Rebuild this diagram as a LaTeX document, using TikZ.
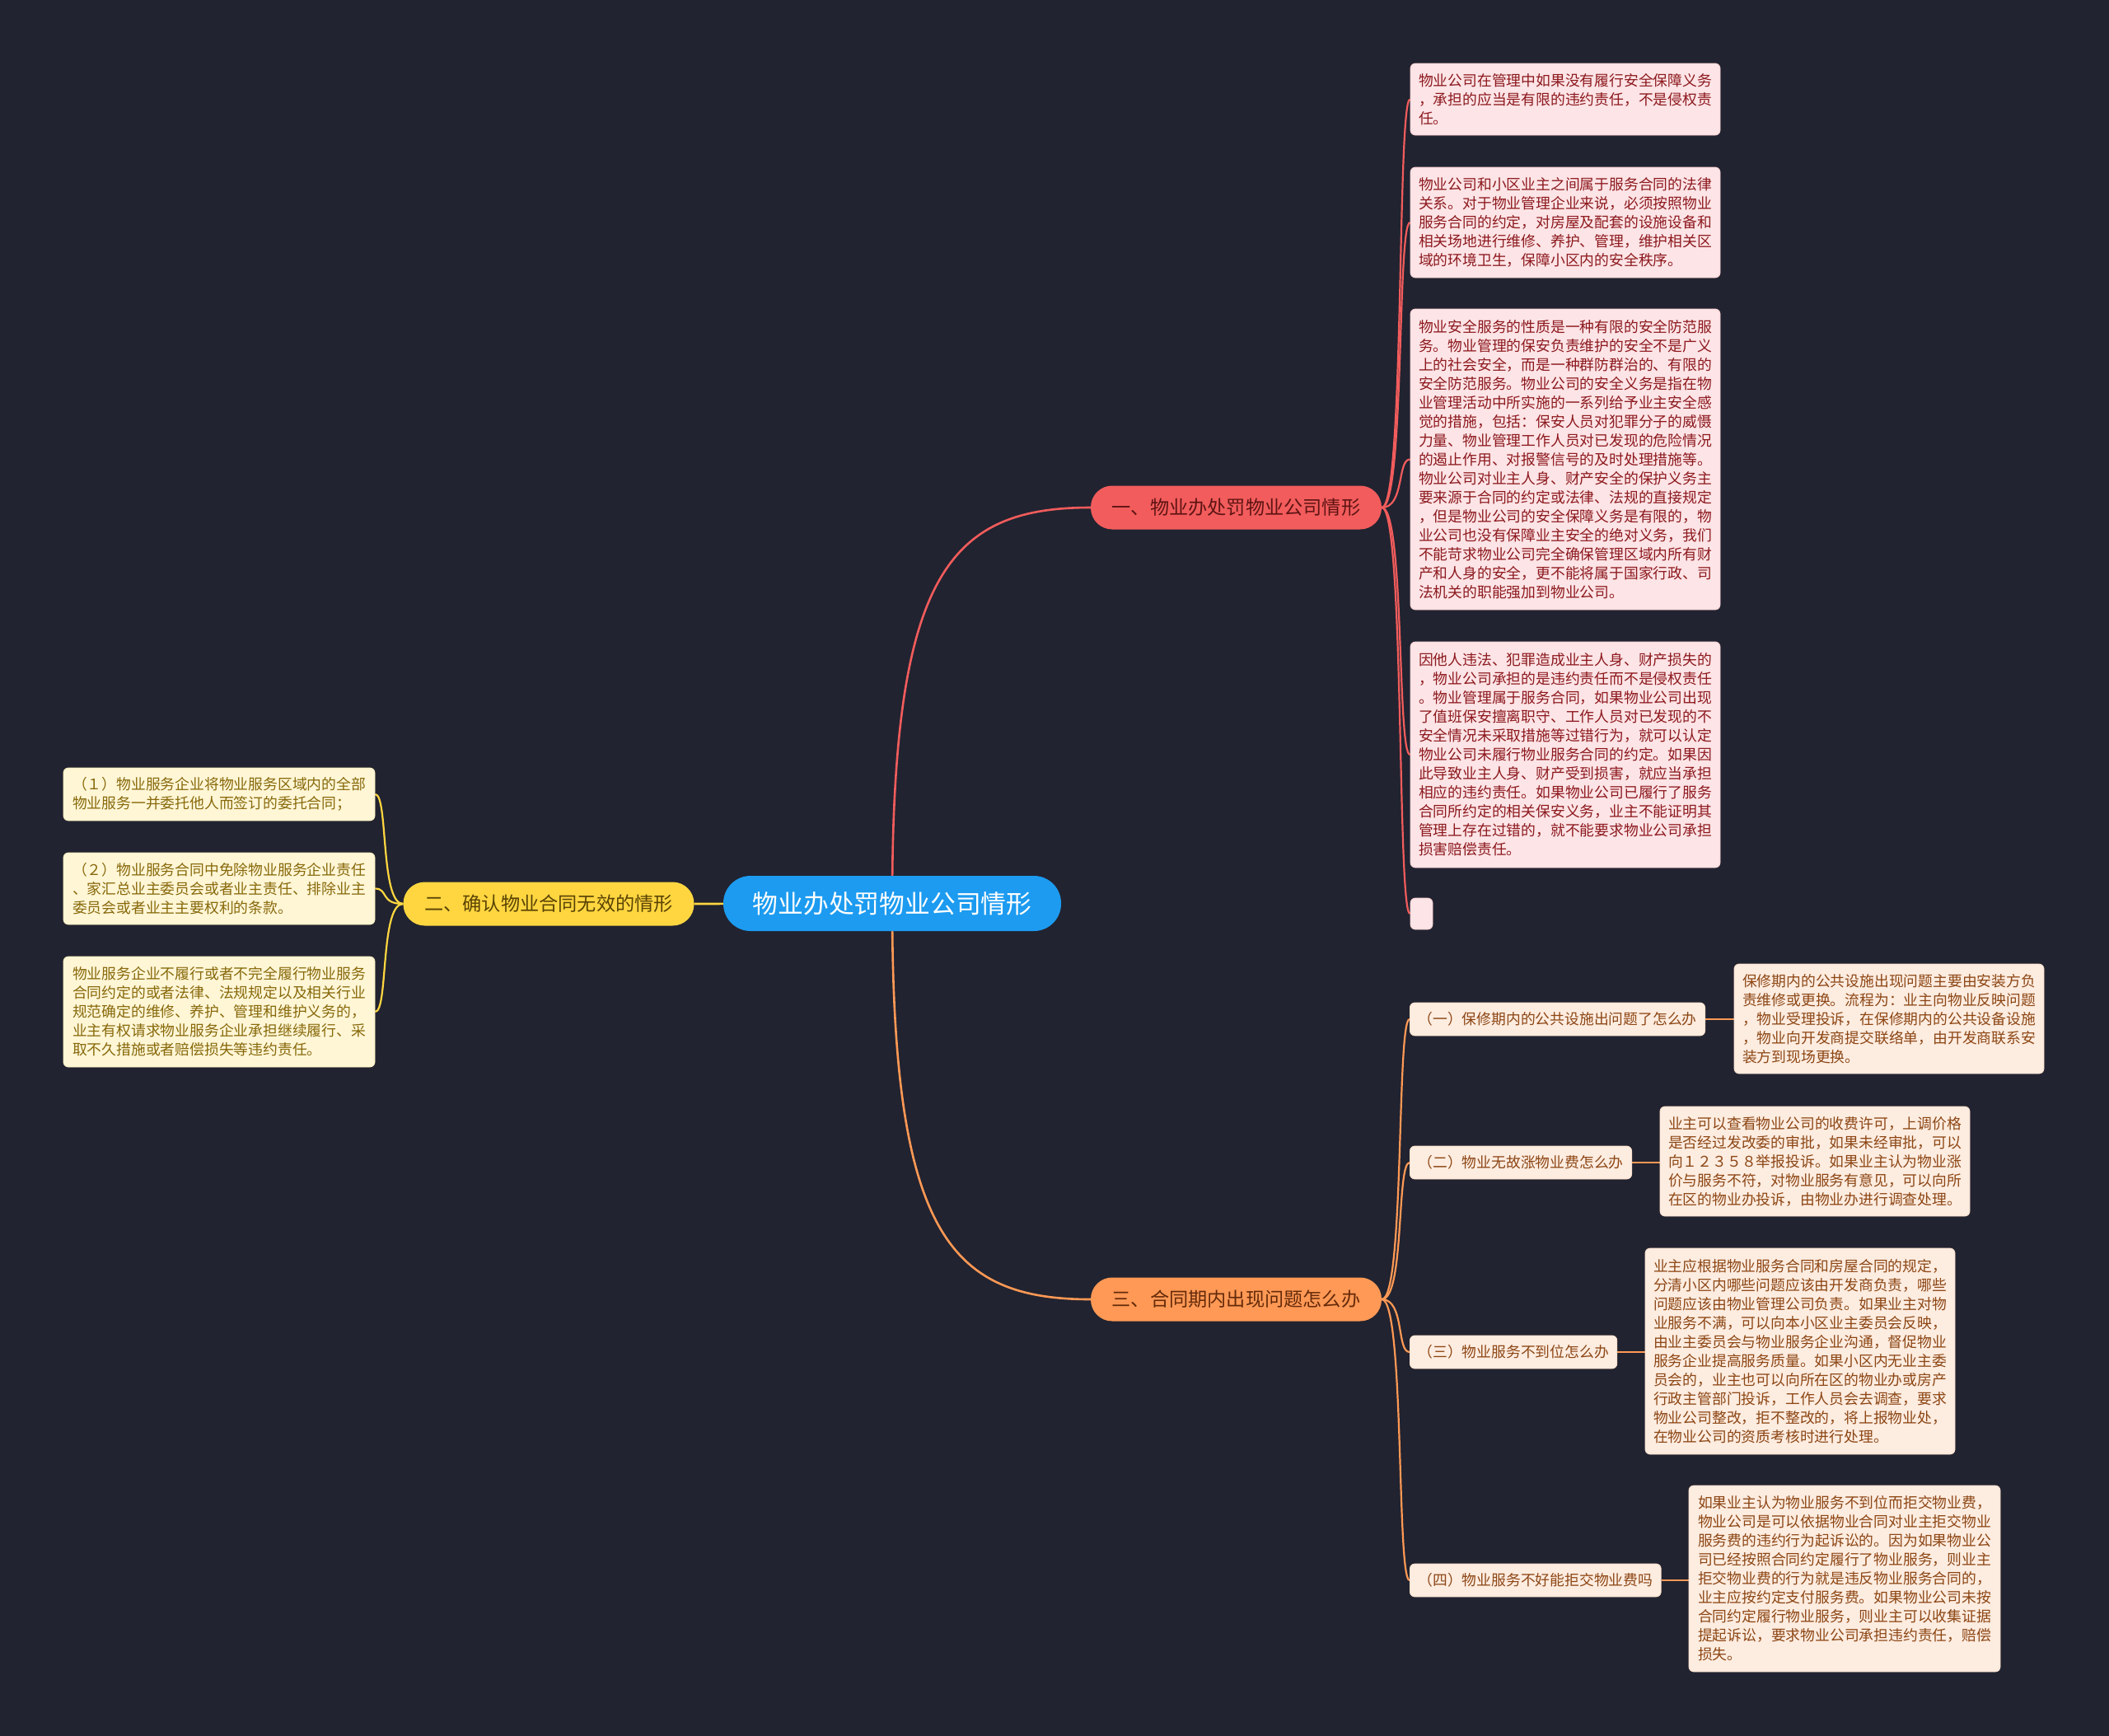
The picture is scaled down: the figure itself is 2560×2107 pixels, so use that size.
\documentclass[tikz,border=0pt]{standalone}
\usepackage{fontspec}
\newfontfamily\cjk{Noto Sans CJK SC}
\definecolor{bgc}{RGB}{33,35,48}
\definecolor{centerc}{RGB}{28,155,240}
\definecolor{redc}{RGB}{242,92,92}
\definecolor{redtxt}{RGB}{95,20,20}
\definecolor{yelc}{RGB}{255,214,64}
\definecolor{yeltxt}{RGB}{90,68,5}
\definecolor{orac}{RGB}{255,153,85}
\definecolor{oratxt}{RGB}{100,42,10}
\definecolor{pinkfill}{RGB}{253,228,230}
\definecolor{pinktxt}{RGB}{140,25,30}
\definecolor{creamfill}{RGB}{255,246,214}
\definecolor{creamtxt}{RGB}{135,105,10}
\definecolor{peachfill}{RGB}{253,236,224}
\definecolor{peachtxt}{RGB}{140,70,20}
\pgfdeclarelayer{bglayer}
\pgfdeclarelayer{edgelayer}
\pgfsetlayers{bglayer,edgelayer,main}
\begin{document}
\begin{tikzpicture}[x=1pt,y=-1pt,
  leafbase/.style={rounded corners=6pt, align=left, inner xsep=10pt, inner ysep=0pt,
     font=\cjk\fontsize{17.8}{23}\selectfont, line width=0.8pt},
  leafR/.style={leafbase, fill=pinkfill, draw=pinkfill!85!redc, text=pinktxt},
  leafY/.style={leafbase, fill=creamfill, draw=creamfill!85!yelc, text=creamtxt},
  leafO/.style={leafbase, fill=peachfill, draw=peachfill!85!orac, text=peachtxt},
  sublabel/.style={leafbase, fill=peachfill, draw=peachfill!85!orac, text=peachtxt, minimum height=40pt, anchor=west},
  branch/.style={rounded corners=26pt, minimum width=353pt, minimum height=53pt, inner sep=0pt,
     font=\cjk\fontsize{23.2}{26}\selectfont},
  rootnode/.style={rounded corners=33pt, fill=centerc, text=white, minimum width=410pt, minimum height=67pt,
     inner sep=0pt, font=\cjk\fontsize{30.8}{34}\selectfont},
  mainedge/.style={line width=2.6pt},
  subedge/.style={line width=2.2pt},
]
\useasboundingbox (0,0) rectangle (2560,2107);
\begin{pgfonlayer}{bglayer}
\fill[bgc] (0,0) rectangle (2560,2107);
\end{pgfonlayer}

% root and branches
\node[rootnode] (c) at (1083,1096.5) {物业办处罚物业公司情形};
\node[branch, fill=redc, text=redtxt] (b1) at (1500.5,616) {一、物业办处罚物业公司情形};
\node[branch, fill=yelc, text=yeltxt] (b2) at (666,1097) {二、确认物业合同无效的情形};
\node[branch, fill=orac, text=oratxt] (b3) at (1500.5,1577) {三、合同期内出现问题怎么办};

% red leaves
\node[leafR, minimum width=376pt, minimum height=87pt] (r1) at (1900,120.5) {物业公司在管理中如果没有履行安全保障义务\\，承担的应当是有限的违约责任，不是侵权责\\任。};
\node[leafR, minimum width=376pt, minimum height=134pt] (r2) at (1900,270) {物业公司和小区业主之间属于服务合同的法律\\关系。对于物业管理企业来说，必须按照物业\\服务合同的约定，对房屋及配套的设施设备和\\相关场地进行维修、养护、管理，维护相关区\\域的环境卫生，保障小区内的安全秩序。};
\node[leafR, minimum width=376pt, minimum height=365pt] (r3) at (1900,557.5) {物业安全服务的性质是一种有限的安全防范服\\务。物业管理的保安负责维护的安全不是广义\\上的社会安全，而是一种群防群治的、有限的\\安全防范服务。物业公司的安全义务是指在物\\业管理活动中所实施的一系列给予业主安全感\\觉的措施，包括：保安人员对犯罪分子的威慑\\力量、物业管理工作人员对已发现的危险情况\\的遏止作用、对报警信号的及时处理措施等。\\物业公司对业主人身、财产安全的保护义务主\\要来源于合同的约定或法律、法规的直接规定\\，但是物业公司的安全保障义务是有限的，物\\业公司也没有保障业主安全的绝对义务，我们\\不能苛求物业公司完全确保管理区域内所有财\\产和人身的安全，更不能将属于国家行政、司\\法机关的职能强加到物业公司。};
\node[leafR, minimum width=376pt, minimum height=274pt] (r4) at (1900,916) {因他人违法、犯罪造成业主人身、财产损失的\\，物业公司承担的是违约责任而不是侵权责任\\。物业管理属于服务合同，如果物业公司出现\\了值班保安擅离职守、工作人员对已发现的不\\安全情况未采取措施等过错行为，就可以认定\\物业公司未履行物业服务合同的约定。如果因\\此导致业主人身、财产受到损害，就应当承担\\相应的违约责任。如果物业公司已履行了服务\\合同所约定的相关保安义务，业主不能证明其\\管理上存在过错的，就不能要求物业公司承担\\损害赔偿责任。};
\node[leafR, inner xsep=0pt, minimum width=27pt, minimum height=38pt] (r5) at (1725.5,1109) {};

% yellow leaves
\node[leafY, minimum width=378pt, minimum height=64pt] (y1) at (266,964) {（１）物业服务企业将物业服务区域内的全部\\物业服务一并委托他人而签订的委托合同；};
\node[leafY, minimum width=378pt, minimum height=87pt] (y2) at (266,1078.5) {（２）物业服务合同中免除物业服务企业责任\\、家汇总业主委员会或者业主责任、排除业主\\委员会或者业主主要权利的条款。};
\node[leafY, minimum width=378pt, minimum height=134pt] (y3) at (266,1228) {物业服务企业不履行或者不完全履行物业服务\\合同约定的或者法律、法规规定以及相关行业\\规范确定的维修、养护、管理和维护义务的，\\业主有权请求物业服务企业承担继续履行、采\\取不久措施或者赔偿损失等违约责任。};

% orange sub-branches
\node[sublabel] (s1) at (1711,1237) {（一）保修期内的公共设施出问题了怎么办};
\node[sublabel] (s2) at (1711,1411) {（二）物业无故涨物业费怎么办};
\node[sublabel] (s3) at (1711,1641) {（三）物业服务不到位怎么办};
\node[sublabel] (s4) at (1711,1918) {（四）物业服务不好能拒交物业费吗};

% orange leaves
\node[leafO, minimum width=376pt, minimum height=133pt] (o1) at (2293,1236.5) {保修期内的公共设施出现问题主要由安装方负\\责维修或更换。流程为：业主向物业反映问题\\，物业受理投诉，在保修期内的公共设备设施\\，物业向开发商提交联络单，由开发商联系安\\装方到现场更换。};
\node[leafO, minimum width=376pt, minimum height=133pt] (o2) at (2203,1409.5) {业主可以查看物业公司的收费许可，上调价格\\是否经过发改委的审批，如果未经审批，可以\\向１２３５８举报投诉。如果业主认为物业涨\\价与服务不符，对物业服务有意见，可以向所\\在区的物业办投诉，由物业办进行调查处理。};
\node[leafO, minimum width=376pt, minimum height=250pt] (o3) at (2185,1640) {业主应根据物业服务合同和房屋合同的规定，\\分清小区内哪些问题应该由开发商负责，哪些\\问题应该由物业管理公司负责。如果业主对物\\业服务不满，可以向本小区业主委员会反映，\\由业主委员会与物业服务企业沟通，督促物业\\服务企业提高服务质量。如果小区内无业主委\\员会的，业主也可以向所在区的物业办或房产\\行政主管部门投诉，工作人员会去调查，要求\\物业公司整改，拒不整改的，将上报物业处，\\在物业公司的资质考核时进行处理。};
\node[leafO, minimum width=378pt, minimum height=226pt] (o4) at (2239,1916) {如果业主认为物业服务不到位而拒交物业费，\\物业公司是可以依据物业合同对业主拒交物业\\服务费的违约行为起诉讼的。因为如果物业公\\司已经按照合同约定履行了物业服务，则业主\\拒交物业费的行为就是违反物业服务合同的，\\业主应按约定支付服务费。如果物业公司未按\\合同约定履行物业服务，则业主可以收集证据\\提起诉讼，要求物业公司承担违约责任，赔偿\\损失。};

% connectors
\begin{pgfonlayer}{edgelayer}
\draw[mainedge, redc] (c.center) .. controls (1083,700) and (1150,616) .. (b1.west);
\draw[mainedge, orac] (c.center) .. controls (1083,1493) and (1150,1577) .. (b3.west);
\draw[mainedge, yelc] (c.center) -- (b2.east);
\foreach \n in {r1,r2,r3,r4,r5}
  \draw[subedge, redc] (b1.east) .. controls +(28,0) and +(-16,0) .. (\n.west);
\foreach \n in {y1,y2,y3}
  \draw[subedge, yelc] (b2.west) .. controls +(-28,0) and +(16,0) .. (\n.east);
\foreach \n in {s1,s2,s3,s4}
  \draw[subedge, orac] (b3.east) .. controls +(28,0) and +(-16,0) .. (\n.west);
\draw[subedge, orac] (s1.east) -- (s1.east -| o1.west);
\draw[subedge, orac] (s2.east) -- (s2.east -| o2.west);
\draw[subedge, orac] (s3.east) -- (s3.east -| o3.west);
\draw[subedge, orac] (s4.east) -- (s4.east -| o4.west);
\end{pgfonlayer}
\end{tikzpicture}
\end{document}
